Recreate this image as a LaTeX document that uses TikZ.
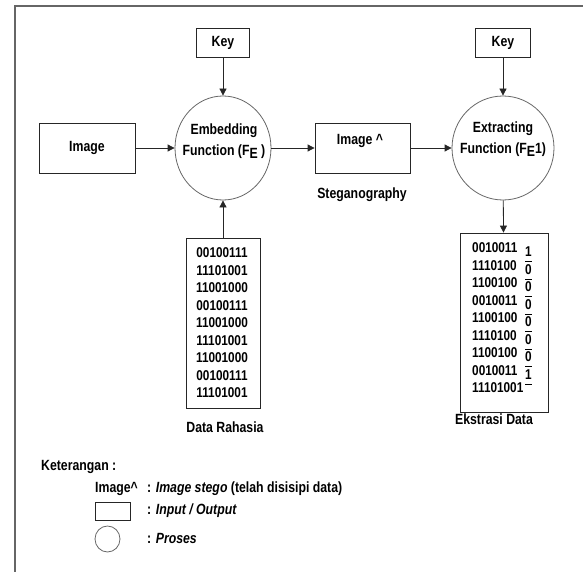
\documentclass[tikz,border=0pt]{standalone}
\usepackage{fontspec}
\setmainfont{Liberation Sans}[FakeStretch=0.83]
\usetikzlibrary{arrows.meta,shapes.geometric}
\begin{document}
\begin{tikzpicture}[x=1pt,y=-1pt,
  font=\bfseries\fontsize{14.8}{16}\selectfont,
  box/.style={draw=black!85, line width=0.8pt, inner sep=0pt},
  proc/.style={ellipse, draw=black!60, line width=0.8pt, minimum width=96pt, minimum height=104pt, inner sep=0pt},
  txt/.style={inner sep=0pt, align=center},
  dig/.style={inner sep=0pt, font=\bfseries\fontsize{14.2}{16}\selectfont},
  ctxt/.style={inner sep=0pt, align=center, font=\bfseries\fontsize{14.8}{21}\selectfont},
  arr/.style={-{Triangle[length=7pt,width=7pt]}, line width=0.8pt, draw=black!85},
  bar/.style={line width=0.6pt, draw=black}]
\useasboundingbox (0,0) rectangle (583,572);
\draw[black!60, line width=1.2pt] (15,572) -- (15,6) -- (583,6);

% top row
\node[box, minimum width=53pt, minimum height=29pt] (key1) at (223,42.5) {Key};
\node[box, minimum width=55pt, minimum height=29pt] (key2) at (503,42.5) {Key};
\node[box, minimum width=96pt, minimum height=50pt] (img) at (87,148) {Image};
\node[proc] (emb) at (223,148) {};
\node[ctxt] (embt) at (224,141) {Embedding\\Function (F\raisebox{-3pt}{E} )};
\node[box, minimum width=95pt, minimum height=50pt] (stego) at (362.5,148) {};
\node[txt] (stegot) at (360,141) {Image \textasciicircum};
\node[txt] (steglbl) at (362,195) {Steganography};
\node[proc, minimum width=102pt] (ext) at (503,148) {};
\node[ctxt] (extt) at (503,139) {Extracting\\Function (F\raisebox{-3pt}{E}1)};

% data boxes
\node[box, minimum width=74pt, minimum height=170pt] (data1) at (223,323) {};
\foreach \s [count=\i] in {00100111,11101001,11001000,00100111,11001000,11101001,11001000,00100111,11101001}
  \node[dig] (d1-\i) at (222,{253+17.5*(\i-1)}) {\s};
\node[txt] (lbl1) at (225,427) {Data Rahasia};

\node[box, minimum width=88pt, minimum height=179pt] (data2) at (504,322.5) {};
\foreach \s [count=\i] in {0010011,1110100,1100100,0010011,1100100,1110100,1100100,0010011,11101001}
  \node[dig, anchor=west] (d2-\i) at (472,{248+17.5*(\i-1)}) {\s};
\foreach \s [count=\i] in {1,0,0,0,0,0,0,1}
  \node[dig] (b2-\i) at (528.5,{252+17.5*(\i-1)}) {\s};
\foreach \i in {1,...,8}
  \draw[bar] (525,{261.5+17.5*(\i-1)}) -- (532,{261.5+17.5*(\i-1)});
\node[txt] (lbl2) at (494,419) {Ekstrasi Data};

% connectors
\draw[arr] (img) -- (emb);
\draw[arr] (emb) -- (stego);
\draw[arr] (stego) -- (ext);
\draw[arr] (key1) -- (emb);
\draw[arr] (key2) -- (ext);
\draw[arr] (data1) -- (emb);
\draw[arr] (ext) -- (data2);

% legend
\node[txt, anchor=west] (ket) at (41,467) {Keterangan :};
\node[txt, anchor=west] (lg1) at (95,489) {Image\textasciicircum};
\node[txt, anchor=west] (lg1t) at (147,489) {: \textit{Image stego} (telah disisipi data)};
\node[box, minimum width=35pt, minimum height=18pt] (lgbox) at (112.5,511) {};
\node[txt, anchor=west] (lg2t) at (147,511) {: \textit{Input / Output}};
\node[ellipse, draw=black!60, line width=0.8pt, minimum width=25pt, minimum height=26pt, inner sep=0pt] (lgcirc) at (107.5,539) {};
\node[txt, anchor=west] (lg3t) at (147,538) {: \textit{Proses}};
\end{tikzpicture}
\end{document}
